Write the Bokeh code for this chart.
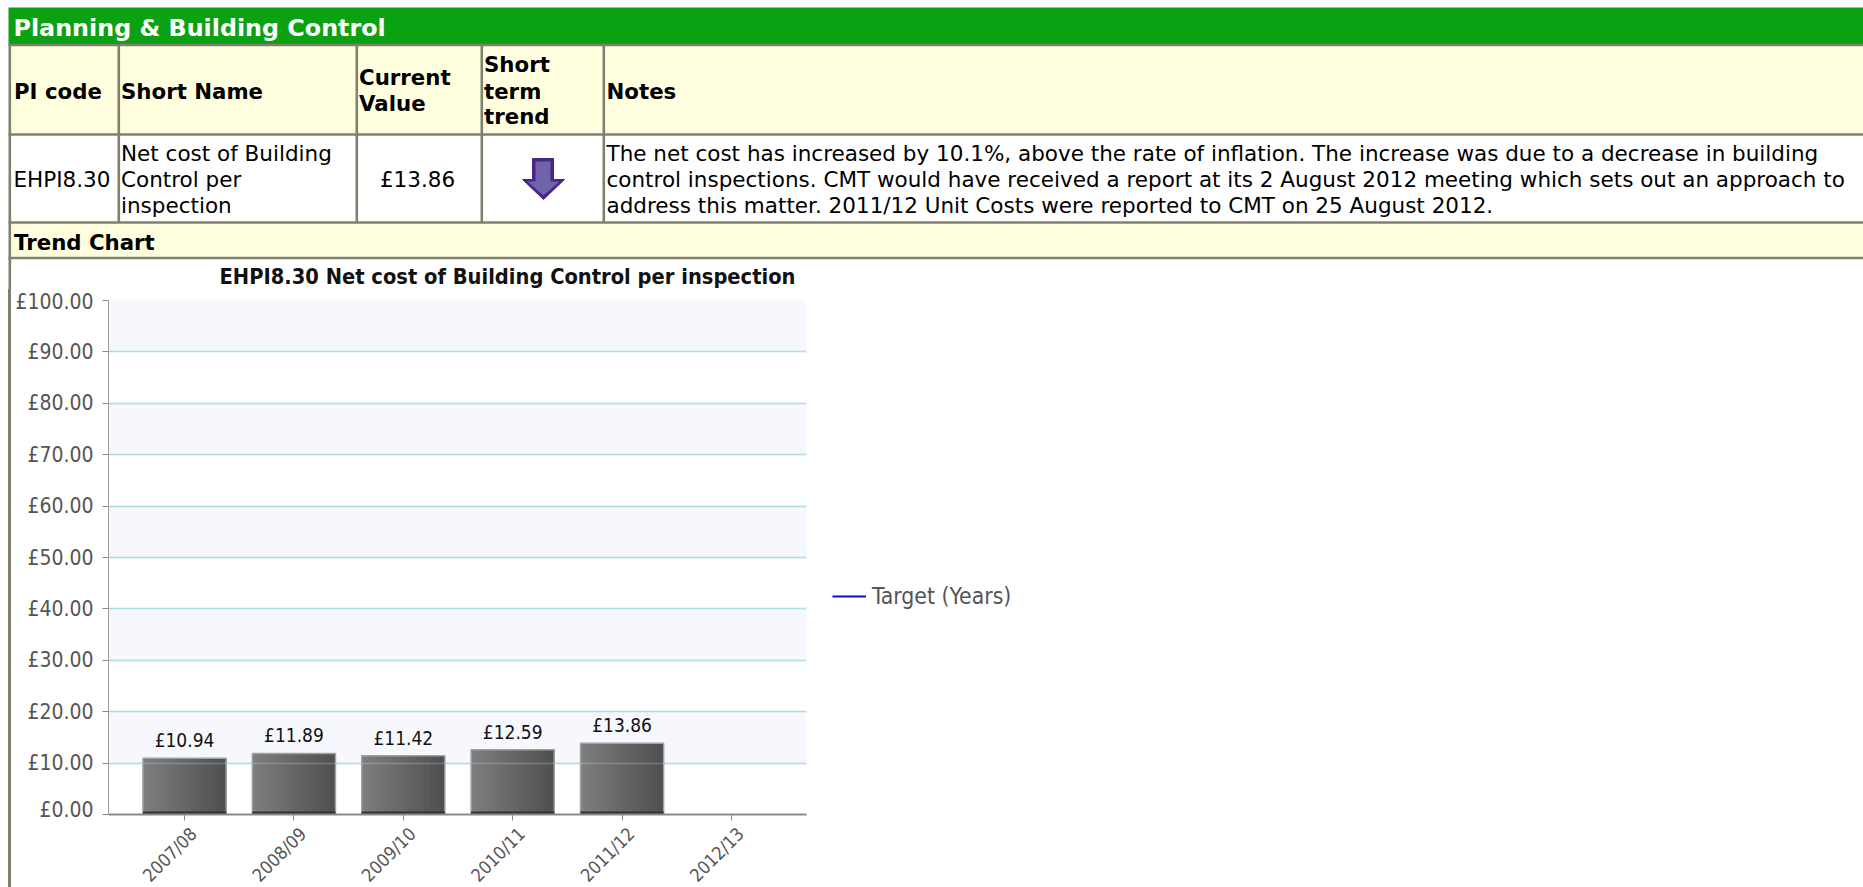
from bokeh.plotting import figure
from bokeh.layouts import column
from bokeh.embed import file_html
from bokeh.resources import INLINE
from bokeh.models import Range1d, FixedTicker, Legend, LegendItem, ColumnDataSource, Grid
from bokeh.core.properties import value
from math import pi

# ---- data ----
section_title = "Planning & Building Control"
band_title = "Trend Chart"
headers = ["PI code", "Short Name", ["Current", "Value"], ["Short", "term", "trend"], "Notes"]
pi_code = "EHPI8.30"
short_name = ["Net cost of Building", "Control per", "inspection"]
current_value = "£13.86"
notes = ["The net cost has increased by 10.1%, above the rate of inflation. The increase was due to a decrease in building",
         "control inspections. CMT would have received a report at its 2 August 2012 meeting which sets out an approach to",
         "address this matter. 2011/12 Unit Costs were reported to CMT on 25 August 2012."]
chart_title = "EHPI8.30 Net cost of Building Control per inspection"
years = ["2007/08", "2008/09", "2009/10", "2010/11", "2011/12", "2012/13"]
costs = [10.94, 11.89, 11.42, 12.59, 13.86]
cost_labels = ["£10.94", "£11.89", "£11.42", "£12.59", "£13.86"]
y_ticks = [0, 10, 20, 30, 40, 50, 60, 70, 80, 90, 100]
y_labels = ["£0.00", "£10.00", "£20.00", "£30.00", "£40.00", "£50.00", "£60.00", "£70.00", "£80.00", "£90.00", "£100.00"]
legend_label = "Target (Years)"

W = 1863
H = 887
TOP_H = 289
MID_END = 821
TABLE_FONT = value("DejaVu Sans")
CHART_FONT = "DejaVu Sans Condensed"
BORDER = "#80806f"
CREAM = "#ffffe0"
FS = "21.3px"
BODY_FS = "21.5px"
LEFT_RULE = f"linear-gradient(to right, #fff 8px, {BORDER} 8px, {BORDER} 10.6px, #fff 10.6px)"

# ---- table (and chart heading) drawn in page pixels ----
t = figure(width=W, height=TOP_H, x_range=Range1d(0, W), y_range=Range1d(TOP_H, 0),
           toolbar_location=None, output_backend="svg", min_border=0, outline_line_color=None,
           frame_align=False)
t.axis.visible = False
t.grid.visible = False

def box(x0, y0, x1, y1, color):
    t.quad(left=[x0], right=[x1], top=[y0], bottom=[y1], fill_color=color, line_color=None)

def txt(x, y, s, size=FS, bold=False, color="#000000", align="left", font=TABLE_FONT):
    t.text(x=[x], y=[y], text=[s], text_font=font, text_font_size=size,
           text_font_style="bold" if bold else "normal", text_color=color,
           text_align=align, text_baseline="middle")

box(8, 7, W, 44, "#0aa112")
box(8, 44, W, 134, CREAM)
box(8, 134, W, 222, "#ffffff")
box(8, 222, W, 258, CREAM)
for y in [44.5, 134, 222, 257.5]:
    box(8, y - 1.2, W, y + 1.2, BORDER)
for x in [8, 117, 355, 480, 602]:
    box(x, 44, x + 2.6, 222, BORDER)
box(8, 222, 10.6, TOP_H, BORDER)

txt(13, 27, section_title, "23.8px", True, "#ffffff")
txt(13.5, 91, headers[0], bold=True)
txt(120.5, 91, headers[1], bold=True)
txt(358.5, 77, headers[2][0], bold=True)
txt(358.5, 103, headers[2][1], bold=True)
txt(483.5, 64, headers[3][0], bold=True)
txt(483.5, 91, headers[3][1], bold=True)
txt(483.5, 116, headers[3][2], bold=True)
txt(606, 91, headers[4], bold=True)
txt(13, 179, pi_code, BODY_FS)
for i, s in enumerate(short_name):
    txt(120.5, 153 + i * 26, s, BODY_FS)
txt(417, 179, current_value, BODY_FS, align="center")
for i, s in enumerate(notes):
    txt(606, 153 + i * 26, s, BODY_FS)
txt(13.5, 242, band_title, bold=True)
txt(507, 276, chart_title, "21.7px", True, "#111111", "center", value(CHART_FONT))

# trend arrow
t.patch(x=[532, 553, 553, 564, 543, 522, 532], y=[158, 158, 179, 179, 199, 179, 179],
        fill_color="#4a2588", line_color="#4a2588")
t.patch(x=[535, 550, 550, 559, 543, 527, 535], y=[161, 161, 181, 181, 195, 181, 181],
        fill_color="#7163aa", line_color=None)

# ---- chart ----
PLOT_L, PLOT_R, PLOT_T, PLOT_B = 108, 806, 300.5, 814
x_range = Range1d(-0.695, 5.686)
p = figure(width=W, height=MID_END - TOP_H,
           x_range=x_range, y_range=Range1d(0, 100),
           toolbar_location=None, output_backend="svg",
           min_border_left=PLOT_L, min_border_right=W - PLOT_R,
           min_border_top=int(PLOT_T - TOP_H), min_border_bottom=MID_END - PLOT_B,
           outline_line_color=None, frame_align=False,
           border_fill_color=None, background_fill_color="#ffffff",
           styles={"background": LEFT_RULE})
p.grid.grid_line_color = None
p.xgrid.visible = False
g = p.ygrid[0]
g.ticker = FixedTicker(ticks=[-10] + y_ticks)
g.grid_line_color = "#b5dde4"
g.grid_line_width = 1.5
g.band_fill_color = "#f7f8fe"
g.band_fill_alpha = 1.0

# tick marks at the categories; their rotated names sit in the strip below
xa = p.xaxis[0]
xa.ticker = FixedTicker(ticks=list(range(len(years))))
xa.major_label_overrides = {i: "" for i in range(len(years))}
xa.major_label_text_font_size = "1px"
xa.major_label_standoff = 0
xa.axis_line_color = "#8a8a8a"
xa.axis_line_width = 2
xa.major_tick_line_color = "#8a8a8a"
xa.major_tick_out = 6
xa.major_tick_in = 0
xa.minor_tick_line_color = None

ya = p.yaxis[0]
ya.ticker = FixedTicker(ticks=y_ticks)
ya.major_label_overrides = {v: s for v, s in zip(y_ticks, y_labels)}
ya.major_label_text_font = CHART_FONT
ya.major_label_text_font_size = "21px"
ya.major_label_text_color = "#555555"
ya.axis_line_color = "#9a9a9a"
ya.major_tick_line_color = "#8a8a8a"
ya.major_tick_out = 6
ya.major_tick_in = 0
ya.minor_tick_line_color = None
ya.major_label_standoff = 9

idx = list(range(len(costs)))
BAR_W = 0.76
STRIPS = 16
for k in range(STRIPS):
    frac = k / (STRIPS - 1)
    shade = int(126 - frac * 46)
    p.quad(left=[i - BAR_W / 2 + k * BAR_W / STRIPS for i in idx], right=[i + BAR_W / 2 for i in idx],
           top=costs, bottom=0, fill_color=f"#{shade:02x}{shade:02x}{shade:02x}", line_color=None)
p.vbar(x=idx, width=BAR_W, top=costs, bottom=0, fill_color=None, line_color="#a0a0a0", line_width=1.5)
p.vbar(x=idx, width=BAR_W, top=[0.6] * len(costs), bottom=0, fill_color="#333333", line_color=None)

# the gridlines show faintly through the bars
p.add_layout(Grid(dimension=1, ticker=FixedTicker(ticks=y_ticks), axis=ya, grid_line_color="#a8dde6",
                  grid_line_alpha=0.3, grid_line_width=1.5, level="overlay"))

src = ColumnDataSource(dict(x=idx, y=costs, t=cost_labels))
p.text(x="x", y="y", text="t", source=src, text_align="center", text_baseline="middle", y_offset=-18,
       text_font=value(CHART_FONT), text_font_size="19px", text_color="#111111")

# empty target series: only its legend entry shows
target = p.line(x=[float("nan")], y=[float("nan")], line_color="#0c0cdc", line_width=2)
legend = Legend(items=[LegendItem(label=legend_label, renderers=[target])],
                location=(26, PLOT_B - 609), orientation="vertical",
                border_line_color=None, background_fill_alpha=0, padding=0, margin=0,
                glyph_width=34, glyph_height=20, label_standoff=6, spacing=0,
                label_text_font=CHART_FONT, label_text_font_size="22.8px", label_text_color="#555555")
p.add_layout(legend, "right")

# ---- strip under the axis: rotated category names on the chart's x scale ----
STRIP_H = H - MID_END
LABEL_SHIFT = -0.135
b = figure(width=W, height=STRIP_H,
           x_range=Range1d(-0.695 - PLOT_L / 109.4, 5.686 + (W - PLOT_R) / 109.4),
           y_range=Range1d(STRIP_H, 0),
           toolbar_location=None, output_backend="svg",
           min_border_left=0, min_border_right=0, min_border_top=0, min_border_bottom=0,
           outline_line_color=None, frame_align=False, border_fill_color=None, background_fill_color=None,
           styles={"background": LEFT_RULE})
b.axis.visible = False
b.grid.visible = False
b.text(x=[i + LABEL_SHIFT for i in range(len(years))], y=[STRIP_H / 2] * len(years), text=years,
       angle=pi / 4, text_align="center", text_baseline="middle",
       text_font=value(CHART_FONT), text_font_size="18px", text_color="#555555")

root = column(t, p, b, spacing=0, width=W)
open("out.html", "w").write(file_html(root, INLINE))
